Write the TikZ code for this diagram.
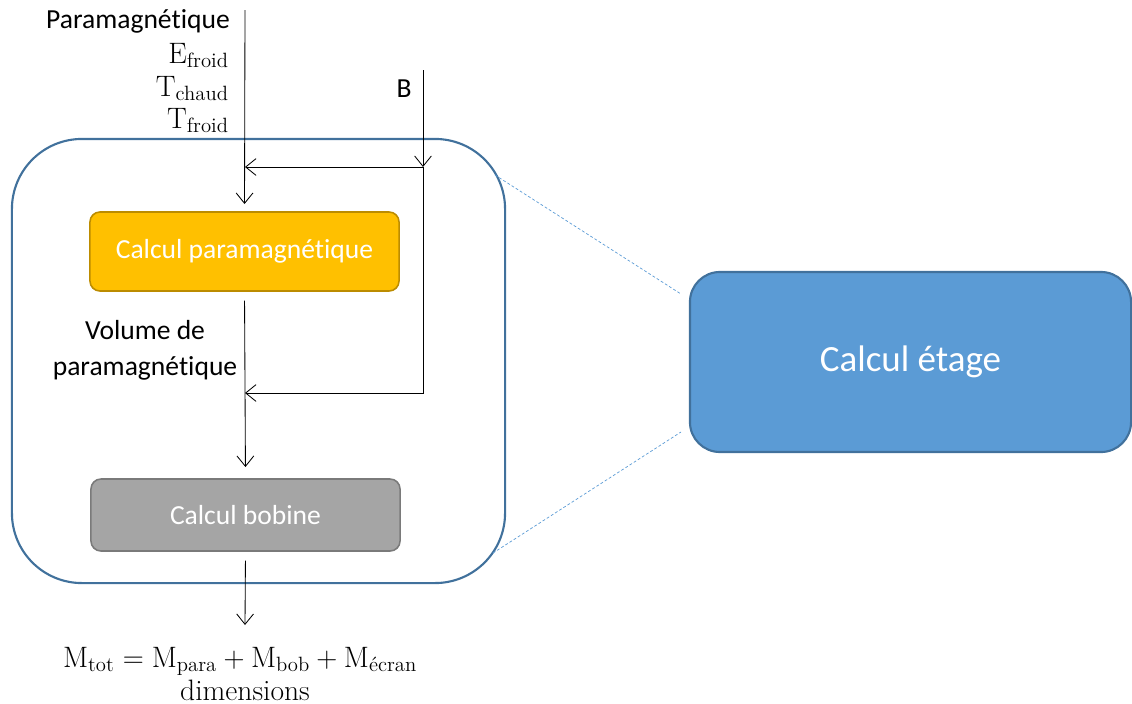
\documentclass[tikz,border=0pt]{standalone}
\usepackage{amsmath}
\usepackage{fontspec}
\usetikzlibrary{arrows.meta}
\newfontfamily\calibri[Ligatures=NoCommon]{Carlito}
\definecolor{stageline}{HTML}{41719C}
\definecolor{parafill}{HTML}{FFC000}
\definecolor{paraline}{HTML}{BC8C00}
\definecolor{bobfill}{HTML}{A5A5A5}
\definecolor{bobline}{HTML}{7A7A7A}
\definecolor{etagefill}{HTML}{5B9BD5}
\definecolor{zoomline}{HTML}{5B9BD5}
\tikzset{
  stage frame/.style={draw=stageline, line width=1.5pt,
    rounded corners=1.75cm, minimum width=12.325cm, minimum height=11.1cm},
  calc box/.style={rounded corners=0.25cm, line width=1.1pt, text=white,
    font=\calibri\fontsize{19.6}{23}\selectfont, minimum width=7.725cm},
  etage box/.style={fill=etagefill, draw=stageline, line width=1.5pt,
    rounded corners=0.75cm, text=white,
    font=\calibri\fontsize{26.3}{30}\selectfont,
    minimum width=11.025cm, minimum height=4.5cm},
  flow/.style={draw=black, line width=0.6pt,
    -{Straight Barb[length=2.6mm,width=4.2mm]}},
  zoom line/.style={draw=zoomline, line width=0.5pt,
    dash pattern=on 2pt off 1.5pt},
  text label/.style={font=\calibri\fontsize{19.6}{25.5}\selectfont,
    inner sep=0pt},
  math label/.style={font=\fontsize{21}{18}\selectfont, inner sep=0pt},
}

\begin{document}
\begin{tikzpicture}[x=0.025cm, y=-0.025cm]
  \useasboundingbox (0,0) rectangle (1132,704);

  % Stage frame and its detail boxes.
  \node[stage frame] (stage) at (258.5,361) {};
  \node[calc box, fill=parafill, draw=paraline,
    minimum height=1.975cm] (para) at (244.5,251.5)
    {Calcul paramagnétique};
  \node[calc box, fill=bobfill, draw=bobline,
    minimum height=1.8cm] (bob) at (245.5,515) {Calcul bobine};
  \node[etage box] (etage) at (910.5,362) {Calcul étage};

  % Zoom lines between the frame and the stage block.
  \coordinate (z1) at (495,175);
  \coordinate (z2) at (681,294);
  \coordinate (z3) at (493,553);
  \coordinate (z4) at (681,432);
  \draw[zoom line] (z1) -- (z2);
  \draw[zoom line] (z3) -- (z4);

  % Inputs.
  \coordinate (pin) at (245,10);
  \coordinate (bin) at (423,70);
  \coordinate (bsplit) at (423,167);
  \coordinate (bjoin) at (245,393);
  \draw[flow] (pin) -- (para.north) [shorten >=0.18cm];
  \draw[flow] (bin) -- (bsplit);
  \draw[flow] (bsplit) -- (bsplit -| pin);
  \draw[flow] (bsplit) |- (bjoin);
  \node[text label, anchor=base east] (lblpara) at (230,28)
    {Paramagnétique};
  \node[math label, anchor=base east] (lblef) at (229,63)
    {$\mathrm{E}_{\text{froid}}$};
  \node[math label, anchor=base east] (lbltc) at (229,96)
    {$\mathrm{T}_{\text{chaud}}$};
  \node[math label, anchor=base east] (lbltf) at (229,128)
    {$\mathrm{T}_{\text{froid}}$};
  \node[text label, anchor=base east] (lblb) at (412,97) {B};

  % Chain through the stage.
  \draw[flow, shorten <=0.22cm, shorten >=0.28cm] (para.south) -- (bob.north);
  \node[text label, align=center] (lblvol) at (145,350)
    {Volume de\\paramagnétique};

  % Output.
  \coordinate (mout) at (245,625);
  \node[math label, anchor=base] (out) at (240,667)
    {$\mathrm{M}_{\text{tot}} = \mathrm{M}_{\text{para}}
      + \mathrm{M}_{\text{bob}} + \mathrm{M}_{\text{écran}}$};
  \node[math label, anchor=base] (outdim) at (245,700) {dimensions};
  \draw[flow, shorten <=0.22cm] (bob.south) -- (mout);
\end{tikzpicture}
\end{document}
